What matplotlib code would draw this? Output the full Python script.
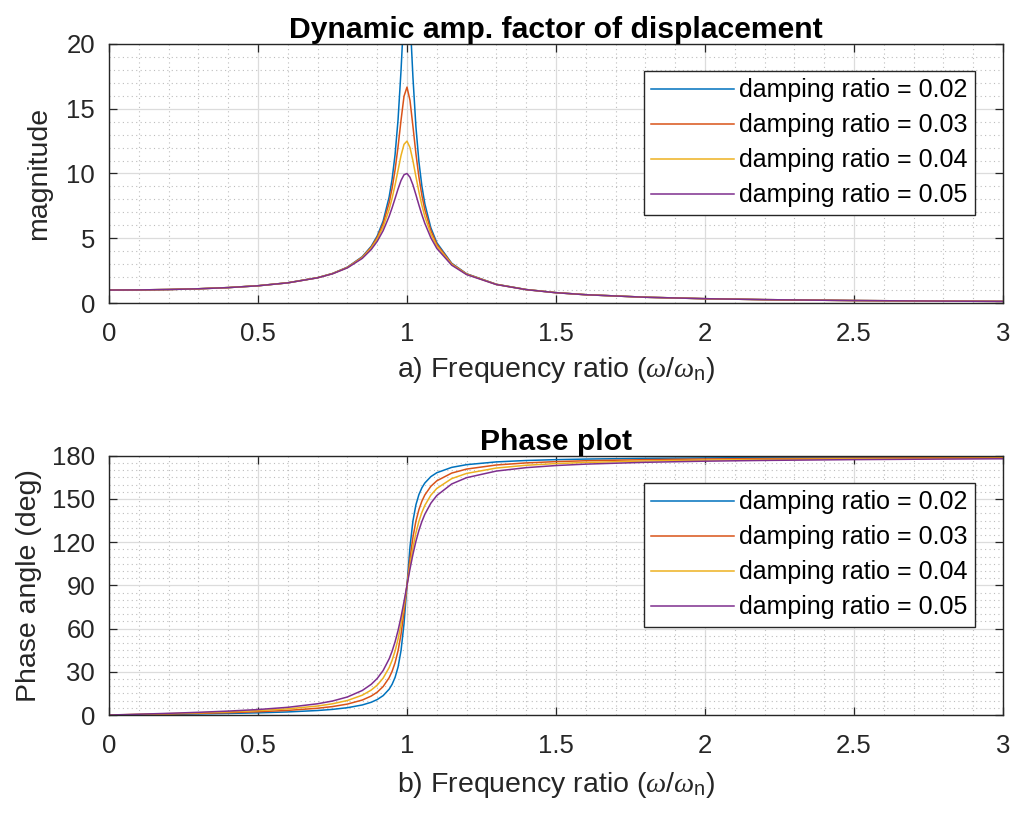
import matplotlib
matplotlib.use("Agg")
import matplotlib.pyplot as plt
from matplotlib.ticker import MultipleLocator

plt.rcParams['font.family'] = ['Liberation Sans', 'DejaVu Sans']
plt.rcParams['mathtext.fontset'] = 'custom'
plt.rcParams['mathtext.it'] = 'Liberation Serif:italic'
plt.rcParams['mathtext.rm'] = 'Liberation Sans'

# frequency ratio samples
freq_ratio = [0, 0.1, 0.2, 0.3, 0.4, 0.5, 0.6, 0.7, 0.75, 0.8, 0.85, 0.88, 0.9,
              0.92, 0.94, 0.95, 0.96, 0.97, 0.98, 0.99, 1.0, 1.01, 1.02, 1.03,
              1.04, 1.05, 1.06, 1.08, 1.1, 1.15, 1.2, 1.3, 1.4, 1.5, 1.6, 1.8,
              2.0, 2.2, 2.5, 2.8, 3.0]

damping_ratios = ["0.02", "0.03", "0.04", "0.05"]

mag_002 = [1.0, 1.010, 1.042, 1.099, 1.190, 1.333, 1.561, 1.958, 2.280, 2.767,
           3.577, 4.380, 5.171, 6.331, 8.175, 9.556, 11.45, 14.15, 17.95, 22.57,
           25.0, 22.16, 17.42, 13.60, 10.92, 9.028, 7.653, 5.817, 4.661, 3.070,
           2.259, 1.445, 1.040, 0.799, 0.641, 0.446, 0.333, 0.260, 0.190, 0.146, 0.125]
mag_003 = [1.0, 1.010, 1.042, 1.099, 1.190, 1.333, 1.560, 1.954, 2.274, 2.753,
           3.544, 4.316, 5.063, 6.127, 7.731, 8.854, 10.28, 12.06, 14.11, 15.96,
           16.67, 15.66, 13.64, 11.53, 9.735, 8.312, 7.194, 5.600, 4.543, 3.032,
           2.243, 1.440, 1.038, 0.798, 0.641, 0.446, 0.333, 0.260, 0.190, 0.146, 0.125]
mag_004 = [1.0, 1.010, 1.042, 1.099, 1.190, 1.332, 1.558, 1.949, 2.265, 2.735,
           3.500, 4.231, 4.922, 5.871, 7.216, 8.089, 9.112, 10.25, 11.39, 12.25,
           12.5, 12.01, 10.98, 9.760, 8.581, 7.546, 6.671, 5.334, 4.392, 2.982,
           2.221, 1.433, 1.035, 0.796, 0.640, 0.446, 0.333, 0.260, 0.190, 0.146, 0.125]
mag_005 = [1.0, 1.010, 1.041, 1.098, 1.189, 1.330, 1.556, 1.943, 2.253, 2.712,
           3.446, 4.130, 4.757, 5.585, 6.684, 7.346, 8.068, 8.804, 9.461, 9.903,
           10.0, 9.711, 9.115, 8.357, 7.565, 6.815, 6.141, 5.041, 4.218, 2.921,
           2.193, 1.424, 1.031, 0.794, 0.639, 0.445, 0.333, 0.260, 0.190, 0.146, 0.125]

ph_002 = [0, 0.23, 0.48, 0.76, 1.09, 1.53, 2.15, 3.14, 3.92, 5.08, 6.99, 8.87,
          10.73, 13.47, 17.90, 21.30, 26.10, 33.29, 44.71, 63.32, 90.0, 116.46,
          134.72, 145.92, 152.99, 157.72, 161.07, 165.45, 168.17, 171.88, 173.77,
          175.69, 176.66, 177.25, 177.65, 178.16, 178.47, 178.69, 178.91, 179.06, 179.14]
ph_003 = [0, 0.35, 0.72, 1.13, 1.64, 2.29, 3.22, 4.71, 5.87, 7.60, 10.41, 13.17,
          15.87, 19.77, 25.85, 30.31, 36.30, 44.56, 56.04, 71.48, 90.0, 108.35,
          123.43, 134.58, 142.59, 148.42, 152.77, 158.72, 162.55, 167.92, 170.71,
          173.55, 175.00, 175.88, 176.48, 177.24, 177.71, 178.03, 178.36, 178.59, 178.71]
ph_004 = [0, 0.46, 0.96, 1.51, 2.18, 3.05, 4.29, 6.27, 7.81, 10.08, 13.77, 17.33,
          20.75, 25.61, 32.86, 37.94, 44.41, 52.70, 63.20, 75.90, 90.0, 103.97,
          116.34, 126.47, 134.44, 140.67, 145.55, 152.56, 157.26, 164.08, 167.69,
          171.43, 173.35, 174.52, 175.31, 176.32, 176.95, 177.38, 177.82, 178.12, 178.28]
ph_005 = [0, 0.58, 1.19, 1.89, 2.73, 3.81, 5.36, 7.82, 9.73, 12.53, 17.03, 21.31,
          25.35, 30.92, 38.92, 44.26, 50.77, 58.65, 68.00, 78.64, 90.0, 101.26,
          111.61, 120.59, 128.12, 134.31, 139.39, 147.00, 152.35, 160.37, 164.74,
          169.33, 171.70, 173.16, 174.14, 175.41, 176.19, 176.72, 177.27, 177.66, 177.85]

x_ticks = [0, 0.5, 1, 1.5, 2, 2.5, 3]
x_tick_labels = ['0', '0.5', '1', '1.5', '2', '2.5', '3']

colors = ['#0072BD', '#D95319', '#EDB120', '#7E2F8E']
mags = [mag_002, mag_003, mag_004, mag_005]
phases = [ph_002, ph_003, ph_004, ph_005]

fig = plt.figure(figsize=(10.14, 8.13), dpi=100)
ax1 = fig.add_axes([0.1075, 0.6273, 0.8816, 0.3186])
ax2 = fig.add_axes([0.1075, 0.1205, 0.8816, 0.3190])

TICK_FS = 18.5
LABEL_FS = 20.5
TITLE_FS = 21.7
LEG_FS = 18
spine_c = '#262626'

def style(ax, ymax, ystep, yminor):
    ax.set_xlim(0, 3)
    ax.set_ylim(0, ymax)
    ax.set_xticks(x_ticks)
    ax.set_xticklabels(x_tick_labels)
    ax.xaxis.set_minor_locator(MultipleLocator(0.1))
    ax.yaxis.set_major_locator(MultipleLocator(ystep))
    ax.yaxis.set_minor_locator(MultipleLocator(yminor))
    ax.grid(True, which='major', color='#dcdcdc', linewidth=0.9, linestyle='-')
    ax.grid(True, which='minor', color='#bdbdbd', linewidth=0.8, linestyle=(0, (1, 3)))
    ax.set_axisbelow(True)
    for s in ax.spines.values():
        s.set_color(spine_c)
        s.set_linewidth(1.0)
    ax.tick_params(which='major', direction='in', length=6, width=0.9, color=spine_c,
                   top=True, right=True, labelsize=TICK_FS, labelcolor='#262626')
    ax.tick_params(axis='x', which='major', pad=14)
    ax.tick_params(axis='y', which='major', pad=10)
    ax.tick_params(which='minor', length=0, top=True, right=True)

style(ax1, 20, 5, 1)
style(ax2, 180, 30, 5)

for c, m, d in zip(colors, mags, damping_ratios):
    ax1.plot(freq_ratio, m, color=c, linewidth=1.1, label=f'damping ratio = {d}')
for c, p, d in zip(colors, phases, damping_ratios):
    ax2.plot(freq_ratio, p, color=c, linewidth=1.1, label=f'damping ratio = {d}')

ax1.set_title('Dynamic amp. factor of displacement', fontsize=TITLE_FS, fontweight='bold', pad=4)
ax2.set_title('Phase plot', fontsize=TITLE_FS, fontweight='bold', pad=4)
ax1.set_ylabel('magnitude', fontsize=LABEL_FS, color='#262626', labelpad=10)
ax2.set_ylabel('Phase angle (deg)', fontsize=LABEL_FS, color='#262626', labelpad=7)
ax1.set_xlabel(r'a) Frequency ratio ($\omega/\omega_{\rm n}$)', fontsize=LABEL_FS,
               color='#262626', labelpad=6)
ax2.set_xlabel(r'b) Frequency ratio ($\omega/\omega_{\rm n}$)', fontsize=LABEL_FS,
               color='#262626', labelpad=8)

for ax, top in ((ax1, 0.8958), (ax2, 0.8947)):
    leg = ax.legend(loc='upper right', bbox_to_anchor=(0.9687, top), fontsize=LEG_FS,
                    frameon=True, fancybox=False, framealpha=1, edgecolor=spine_c,
                    handlelength=3.3, handletextpad=0.2, labelspacing=0.44,
                    borderpad=0.3, borderaxespad=0)
    leg.get_frame().set_linewidth(1.0)

fig.savefig('out.png', dpi=100)
